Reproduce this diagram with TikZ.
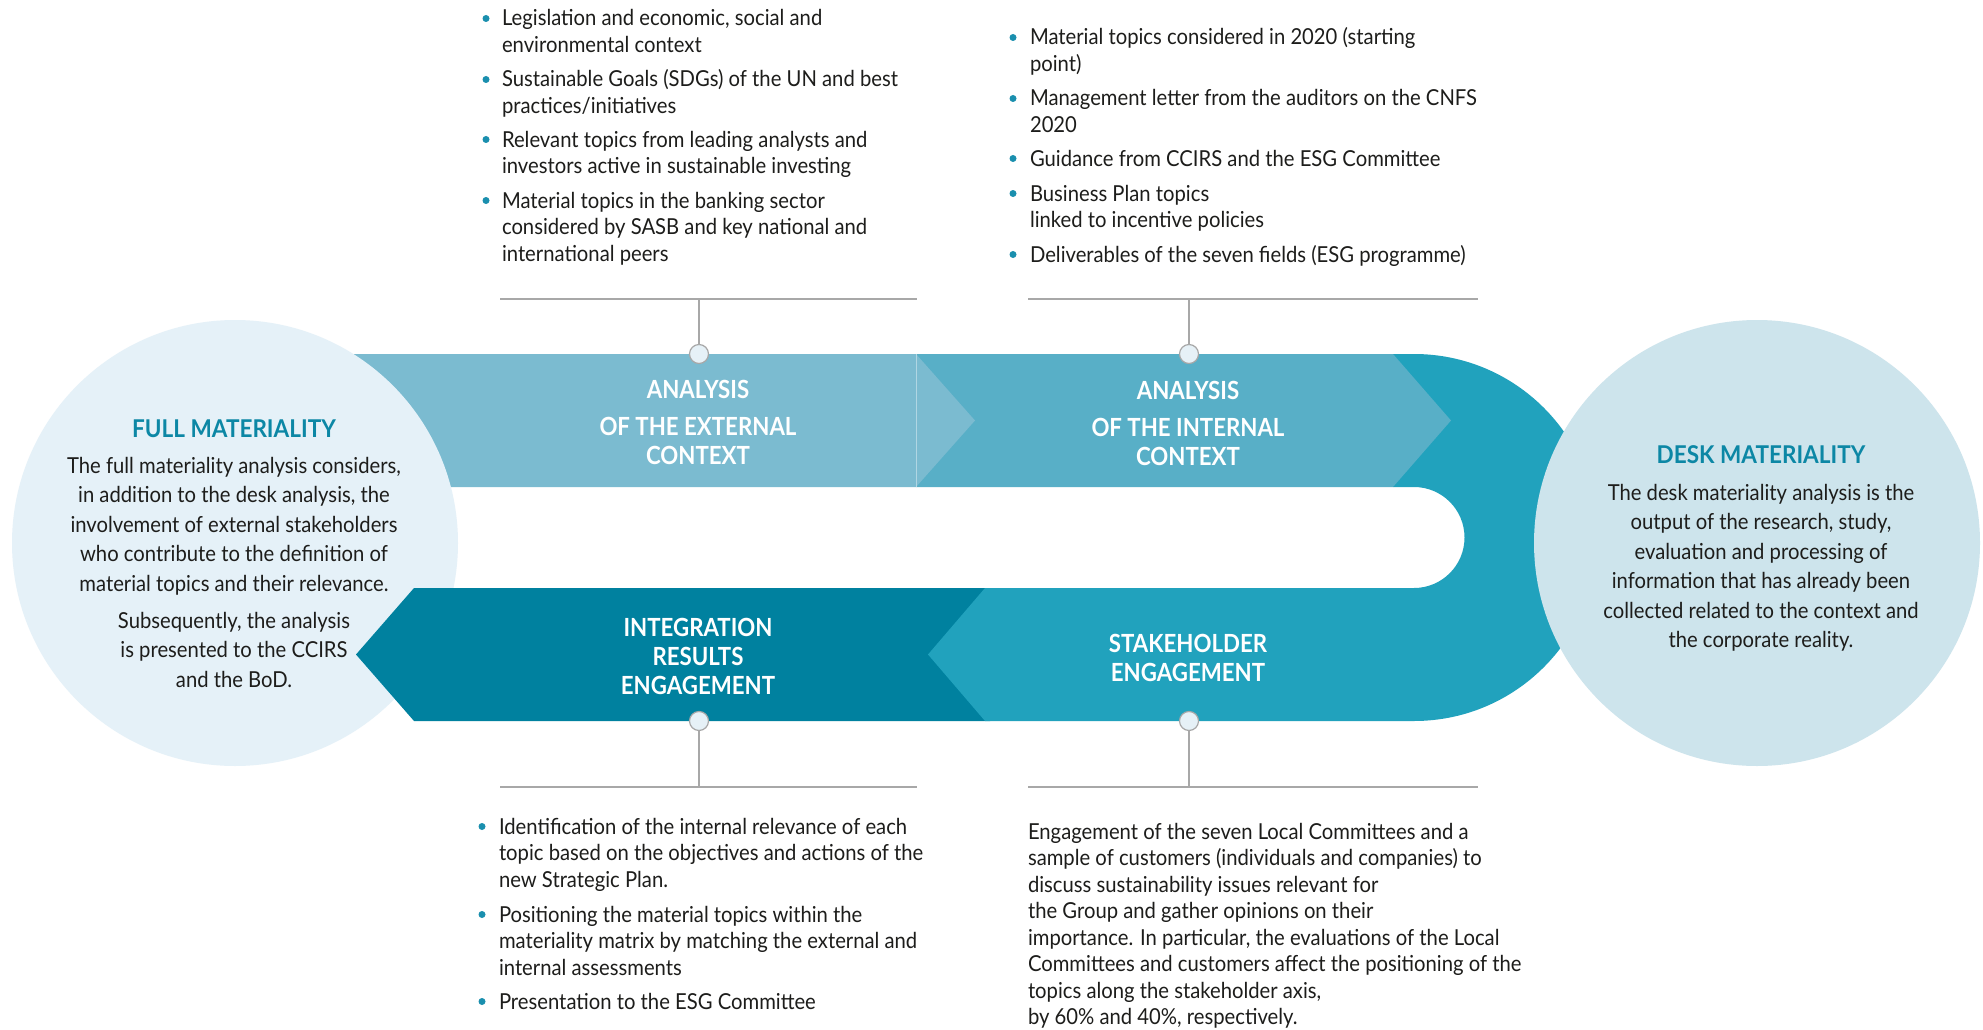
\documentclass[tikz,border=0pt]{standalone}
\usepackage{fontspec}
\setmainfont{Lato}[FakeStretch=0.92]
\newfontfamily\hdfam{Lato}[FakeStretch=0.89]
\newfontfamily\ttlfam{Lato}[FakeStretch=0.92]
\definecolor{extc}{HTML}{7BBBD0}
\definecolor{intc}{HTML}{58AFC7}
\definecolor{stkc}{HTML}{21A2BD}
\definecolor{integc}{HTML}{00819F}
\definecolor{fullc}{HTML}{E5F1F8}
\definecolor{deskc}{HTML}{CDE4EC}
\definecolor{titc}{HTML}{0C87A5}
\definecolor{bulc}{HTML}{1A8FAE}
\definecolor{knobc}{HTML}{E6F1F7}
\definecolor{glinec}{HTML}{A8A8A8}
\definecolor{txtc}{HTML}{1D1D1B}
\newcommand\txtA{\fontsize{22}{26.5}\selectfont}
\newcommand\txtB{\fontsize{22}{29.5}\selectfont}
\newcommand\hdA{\hdfam\bfseries\fontsize{25}{29}\selectfont}
\newcommand\hdB{\ttlfam\bfseries\fontsize{24.5}{29}\selectfont}
\tikzset{
  txt/.style={inner sep=0, outer sep=0, text=txtc, font=\txtA, anchor=base west},
  ctxt/.style={inner sep=0, outer sep=0, text=txtc, font=\txtB, anchor=base},
  dot/.style={circle, fill=bulc, inner sep=0, minimum size=7pt},
  knob/.style={circle, fill=knobc, draw=glinec, line width=1.2pt, inner sep=0, minimum size=19pt},
  gl/.style={draw=glinec, line width=1.6pt},
  head/.style={inner sep=0, outer sep=0, text=white, font=\hdA, anchor=base},
  ctitle/.style={inner sep=0, outer sep=0, text=titc, font=\hdB, anchor=base},
}
\begin{document}
\begin{tikzpicture}[x=1pt,y=1pt]
\fill[white] (0,0) rectangle (1983,-1030);
\useasboundingbox (0,0) rectangle (1983,-1030);

% U shape with stakeholder band
\fill[stkc] (1393,-354) -- (1414,-354) arc[start angle=90,end angle=-90,radius=183.5]
  -- (985,-721) -- (985,-588) -- (1414,-588) arc[start angle=-90,end angle=90,radius=50.5]
  -- (1393,-487) -- cycle;
% internal context
\fill[intc] (916,-354) -- (1393,-354) -- (1451,-420.5) -- (1393,-487) -- (916,-487) -- cycle;
% external context
\fill[extc] (330,-354) -- (916,-354) -- (975,-420.5) -- (916,-487) -- (330,-487) -- cycle;
\draw[white!40!extc, line width=0.8pt] (916,-354) -- (916,-487);
% left circle
\fill[fullc] (235,-543) circle[radius=223];
% integration
\fill[integc] (414,-588) -- (985,-588) -- (985,-721) -- (414,-721) -- (356,-654.5) -- cycle;
% stakeholder tip
\fill[stkc] (990,-588) -- (985,-588) -- (928,-654.5) -- (985,-721) -- (990,-721) -- cycle;
% right circle
\fill[deskc] (1757,-543) circle[radius=223];

% band headings
\node[head] (hext) at (698,-398) {\parbox[t]{320pt}{\centering ANALYSIS\\[8pt]OF THE EXTERNAL\\CONTEXT}};
\node[head] (hint) at (1188,-399) {\parbox[t]{320pt}{\centering ANALYSIS\\[8pt]OF THE INTERNAL\\CONTEXT}};
\node[head] (hintg) at (698,-636) {\parbox[t]{320pt}{\centering INTEGRATION\\RESULTS\\ENGAGEMENT}};
\node[head] (hstk) at (1188,-652) {\parbox[t]{320pt}{\centering STAKEHOLDER\\ENGAGEMENT}};

% circle texts
\node[ctitle] (tfull) at (234,-437) {FULL MATERIALITY};
\node[ctxt] (bfull) at (234,-473) {\parbox[t]{440pt}{\centering The full materiality analysis considers,\\
in addition to the desk analysis, the\\
involvement of external stakeholders\\
who contribute to the definition of\\
material topics and their relevance.\\[7.5pt]
Subsequently, the analysis\\
is presented to the CCIRS\\
and the BoD.}};
\node[ctitle] (tdesk) at (1761,-463) {DESK MATERIALITY};
\node[ctxt] (bdesk) at (1761,-500) {\parbox[t]{440pt}{\centering The desk materiality analysis is the\\
output of the research, study,\\
evaluation and processing of\\
information that has already been\\
collected related to the context and\\
the corporate reality.}};

% connectors
\node[knob] (k1) at (699,-354) {};
\node[knob] (k2) at (1189,-354) {};
\node[knob] (k3) at (699,-721) {};
\node[knob] (k4) at (1189,-721) {};
\coordinate (j1) at (699,-299);
\coordinate (j2) at (1189,-299);
\coordinate (j3) at (699,-787);
\coordinate (j4) at (1189,-787);
\coordinate (l1a) at (500,-299); \coordinate (l1b) at (917,-299);
\coordinate (l2a) at (1028,-299); \coordinate (l2b) at (1478,-299);
\coordinate (l3a) at (500,-787); \coordinate (l3b) at (917,-787);
\coordinate (l4a) at (1028,-787); \coordinate (l4b) at (1478,-787);
\draw[gl] (l1a) -- (l1b); \draw[gl] (j1) -- (k1);
\draw[gl] (l2a) -- (l2b); \draw[gl] (j2) -- (k2);
\draw[gl] (l3a) -- (l3b); \draw[gl] (j3) -- (k3);
\draw[gl] (l4a) -- (l4b); \draw[gl] (j4) -- (k4);

% external bullets
\node[dot] (d1) at (486,-18.5) {};
\node[txt] (e1) at (502,-26) {\parbox[t]{460pt}{Legislation and economic, social and\\environmental context}};
\node[dot] (d2) at (486,-79.5) {};
\node[txt] (e2) at (502,-87) {\parbox[t]{460pt}{Sustainable Goals (SDGs) of the UN and best\\practices/initiatives}};
\node[dot] (d3) at (486,-139.5) {};
\node[txt] (e3) at (502,-147) {\parbox[t]{460pt}{Relevant topics from leading analysts and\\investors active in sustainable investing}};
\node[dot] (d4) at (486,-200.5) {};
\node[txt] (e4) at (502,-208) {\parbox[t]{460pt}{Material topics in the banking sector\\considered by SASB and key national and\\international peers}};

% internal bullets
\node[dot] (d5) at (1013,-37.5) {};
\node[txt] (i1) at (1030,-45) {\parbox[t]{500pt}{Material topics considered in 2020 (starting\\point)}};
\node[dot] (d6) at (1013,-98.5) {};
\node[txt] (i2) at (1030,-106) {\parbox[t]{500pt}{Management letter from the auditors on the CNFS\\2020}};
\node[dot] (d7) at (1013,-158.5) {};
\node[txt] (i3) at (1030,-166) {Guidance from CCIRS and the ESG Committee};
\node[dot] (d8) at (1013,-193.5) {};
\node[txt] (i4) at (1030,-201) {\parbox[t]{500pt}{Business Plan topics\\linked to incentive policies}};
\node[dot] (d9) at (1013,-254.5) {};
\node[txt] (i5) at (1030,-262) {Deliverables of the seven fields (ESG programme)};

% integration bullets
\node[dot] (d10) at (482,-826.5) {};
\node[txt] (g1) at (499,-834) {\parbox[t]{500pt}{Identification of the internal relevance of each\\topic based on the objectives and actions of the\\new Strategic Plan.}};
\node[dot] (d11) at (482,-914.5) {};
\node[txt] (g2) at (499,-922) {\parbox[t]{500pt}{Positioning the material topics within the\\materiality matrix by matching the external and\\internal assessments}};
\node[dot] (d12) at (482,-1001.5) {};
\node[txt] (g3) at (499,-1009) {Presentation to the ESG Committee};

% stakeholder paragraph
\node[txt] (s1) at (1028,-839) {\parbox[t]{540pt}{Engagement of the seven Local Committees and a\\
sample of customers (individuals and companies) to\\
discuss sustainability issues relevant for\\
the Group and gather opinions on their\\
importance. In particular, the evaluations of the Local\\
Committees and customers affect the positioning of the\\
topics along the stakeholder axis,\\
by 60\% and 40\%, respectively.}};
\end{tikzpicture}
\end{document}
